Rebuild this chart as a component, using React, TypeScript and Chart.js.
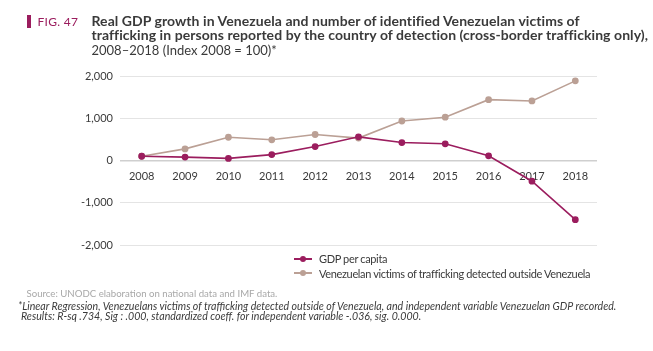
import React, { useEffect, useRef } from "react";
import { Chart, registerables } from "chart.js";

Chart.register(...registerables);

const years = ["2008", "2009", "2010", "2011", "2012", "2013", "2014", "2015", "2016", "2017", "2018"];
const gdpPerCapita = [100, 80, 50, 140, 330, 560, 425, 395, 110, -490, -1400];
const victimsOutside = [100, 275, 550, 490, 615, 530, 935, 1025, 1440, 1410, 1885];
const yTicks = [-2000, -1000, 0, 1000, 2000];

const PINK = "#9b1d5e";
const TAN = "#bba095";
const FONT = "Lato, 'Open Sans', sans-serif";

export default function App() {
  const ref = useRef<HTMLCanvasElement | null>(null);

  useEffect(() => {
    document.body.style.margin = "0";
    const ctx = ref.current!;
    const chart = new Chart(ctx, {
      type: "line",
      data: {
        labels: years,
        datasets: [
          {
            label: "GDP per capita",
            data: gdpPerCapita,
            borderColor: PINK,
            backgroundColor: PINK,
            borderWidth: 1.6,
            pointRadius: 2.6,
            pointHoverRadius: 3,
            tension: 0,
          },
          {
            label: "Venezuelan victims of trafficking detected outside Venezuela",
            data: victimsOutside,
            borderColor: TAN,
            backgroundColor: TAN,
            borderWidth: 1.6,
            pointRadius: 2.6,
            pointHoverRadius: 3,
            tension: 0,
          },
        ],
      },
      options: {
        animation: false,
        responsive: false,
        maintainAspectRatio: false,
        layout: { padding: { top: 76, bottom: 106, left: 0, right: 56 } },
        plugins: {
          legend: { display: false },
          tooltip: { enabled: false },
        },
        scales: {
          x: {
            type: "category",
            offset: true,
            position: { y: 0 },
            grid: { display: false, drawTicks: false },
            border: { display: false },
            ticks: {
              color: "#3a3a3a",
              font: { family: FONT, size: 11 },
              padding: 9,
              maxRotation: 0,
            },
          },
          y: {
            min: -2000,
            max: 2000,
            afterBuildTicks: (s: any) => {
              s.ticks = yTicks.map((v) => ({ value: v }));
            },
            afterFit: (s: any) => {
              s.width = 120;
            },
            grid: {
              color: (c: any) => (c.tick && c.tick.value === 0 ? "#cfcfcf" : "#e4e4e4"),
              lineWidth: (c: any) => (c.tick && c.tick.value === 0 ? 1.5 : 1),
              drawTicks: false,
            },
            border: { display: false },
            ticks: {
              color: "#3a3a3a",
              font: { family: FONT, size: 11 },
              padding: 7,
              callback: (v: any) => Number(v).toLocaleString("en-US"),
            },
          },
        },
      },
    });
    return () => chart.destroy();
  }, []);

  const legendItem = (color: string, text: string, center: number) => (
    <div style={{ position: "absolute", left: 294, top: center - 7, display: "flex", alignItems: "center", height: 14 }}>
      <div style={{ position: "relative", width: 18, height: 2, background: color }}>
        <div style={{ position: "absolute", left: 6, top: -2, width: 6, height: 6, borderRadius: 3, background: color }} />
      </div>
      <span style={{ marginLeft: 7, fontSize: 11, letterSpacing: -0.35, color: "#3a3a3a", fontFamily: FONT, whiteSpace: "nowrap" }}>{text}</span>
    </div>
  );

  return (
    <div style={{ position: "relative", width: 653, height: 351, fontFamily: FONT, background: "#fff" }}>
      <canvas ref={ref} width={653} height={351} style={{ position: "absolute", left: 0, top: 0 }} />
      <div style={{ position: "absolute", left: 27, top: 15, width: 4, height: 13, background: PINK }} />
      <div style={{ position: "absolute", left: 37.5, top: 13.5, fontSize: 12, lineHeight: "15px", color: PINK, letterSpacing: 0.3, whiteSpace: "nowrap" }}>FIG. 47</div>
      <div style={{ position: "absolute", left: 91.5, top: 13.75, fontSize: 13, lineHeight: "14.5px", color: "#3a3a3a", whiteSpace: "nowrap" }}>
        <div style={{ fontWeight: 700, fontSize: 14, letterSpacing: 0.06 }}>Real GDP growth in Venezuela and number of identified Venezuelan victims of</div>
        <div style={{ fontWeight: 700, fontSize: 14, letterSpacing: 0.06 }}>trafficking in persons reported by the country of detection (cross-border trafficking only),</div>
        <div>2008–2018 (Index 2008 = 100)*</div>
      </div>
      {legendItem(PINK, "GDP per capita", 258.7)}
      {legendItem(TAN, "Venezuelan victims of trafficking detected outside Venezuela", 273)}
      <div style={{ position: "absolute", left: 26.5, top: 286.7, fontSize: 9.65, lineHeight: "12px", color: "#a8a8a8", whiteSpace: "nowrap" }}>
        Source: UNODC elaboration on national data and IMF data.
      </div>
      <div style={{ position: "absolute", left: 18, top: 300.5, fontSize: 10.6, lineHeight: "10.7px", color: "#3a3a3a", fontStyle: "italic", whiteSpace: "nowrap" }}>
        <div>*Linear Regression, Venezuelans victims of trafficking detected outside of Venezuela, and independent variable Venezuelan GDP recorded.</div>
        <div style={{ paddingLeft: 3 }}>Results: R-sq .734, Sig : .000, standardized coeff. for independent variable -.036, sig. 0.000.</div>
      </div>
    </div>
  );
}
